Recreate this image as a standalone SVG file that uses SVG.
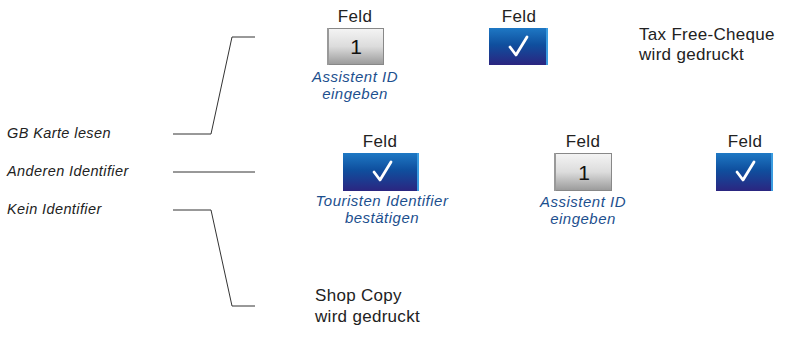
<svg xmlns="http://www.w3.org/2000/svg" width="787" height="342" viewBox="0 0 787 342">
<defs>
<linearGradient id="grey" x1="0" y1="0" x2="0" y2="1">
<stop offset="0" stop-color="#f4f4f4"/><stop offset="0.5" stop-color="#dcdcdc"/><stop offset="1" stop-color="#9a9a9a"/>
</linearGradient>
<linearGradient id="blue" x1="0" y1="0" x2="0" y2="1">
<stop offset="0" stop-color="#1e78c4"/><stop offset="0.45" stop-color="#0f4f9e"/><stop offset="1" stop-color="#2b2580"/>
</linearGradient>
</defs>
<style>
.t{font-family:"Liberation Sans",Arial,sans-serif;font-size:17px;letter-spacing:0.3px;fill:#222}
.c{text-anchor:middle}
.l{font-family:"Liberation Sans",Arial,sans-serif;font-size:14.5px;letter-spacing:0.4px;font-style:italic;fill:#222}
.b{font-family:"Liberation Sans",Arial,sans-serif;font-size:15px;letter-spacing:0.5px;font-style:italic;fill:#1c4f8e;text-anchor:middle}
.n{font-family:"Liberation Sans",Arial,sans-serif;font-size:21px;fill:#111;text-anchor:middle}
.g{fill:url(#grey);stroke:#888;stroke-width:1}
.bl{fill:url(#blue)}
.edge{fill:#3a9ce0}
.chk{fill:none;stroke:#fff;stroke-width:2.8;stroke-linecap:round;stroke-linejoin:round}
.ln{fill:none;stroke:#333;stroke-width:1}
</style>
<g id="connectors">
<polyline class="ln" points="173,134 211,134 232,37 255,37"/>
<line class="ln" x1="173" y1="172" x2="255" y2="172"/>
<polyline class="ln" points="173,210 211,210 232,306 255,306"/>
</g>
<g id="labels-left">
<text class="l" x="7" y="138">GB Karte lesen</text>
<text class="l" x="7" y="176">Anderen Identifier</text>
<text class="l" x="7" y="214">Kein Identifier</text>
</g>
<g id="field-top-1">
<text class="t c" x="355" y="22">Feld</text>
<rect class="g" x="327.5" y="28.5" width="56" height="36"/>
<rect x="327" y="28" width="2" height="37" fill="#999"/>
<text class="n" x="356" y="54">1</text>
<text class="b" x="355" y="82">Assistent ID</text>
<text class="b" x="355" y="99">eingeben</text>
</g>
<g id="field-top-2">
<text class="t c" x="519" y="22">Feld</text>
<rect class="bl" x="489" y="28" width="59" height="37"/>
<rect class="edge" x="546" y="28" width="2" height="37"/>
<polyline class="chk" points="510,47 516,55 527,37"/>
</g>
<g id="tax-free">
<text class="t" x="639" y="40">Tax Free-Cheque</text>
<text class="t" x="639" y="60">wird gedruckt</text>
</g>
<g id="field-mid-1">
<text class="t c" x="380" y="147">Feld</text>
<rect class="bl" x="343" y="153" width="76" height="38"/>
<rect class="edge" x="417" y="153" width="2" height="38"/>
<polyline class="chk" points="374,172 380,180 391,162"/>
<text class="b" x="382" y="206">Touristen Identifier</text>
<text class="b" x="382" y="223">bestätigen</text>
</g>
<g id="field-mid-2">
<text class="t c" x="583" y="147">Feld</text>
<rect class="g" x="554.5" y="153.5" width="57" height="37"/>
<rect x="554" y="153" width="2" height="38" fill="#999"/>
<text class="n" x="584" y="180">1</text>
<text class="b" x="583" y="207">Assistent ID</text>
<text class="b" x="583" y="224">eingeben</text>
</g>
<g id="field-mid-3">
<text class="t c" x="745" y="147">Feld</text>
<rect class="bl" x="716" y="153" width="57" height="38"/>
<rect class="edge" x="771" y="153" width="2" height="38"/>
<polyline class="chk" points="737,172 743,180 754,162"/>
</g>
<g id="shop-copy">
<text class="t" x="315" y="301">Shop Copy</text>
<text class="t" x="315" y="322">wird gedruckt</text>
</g>
</svg>
